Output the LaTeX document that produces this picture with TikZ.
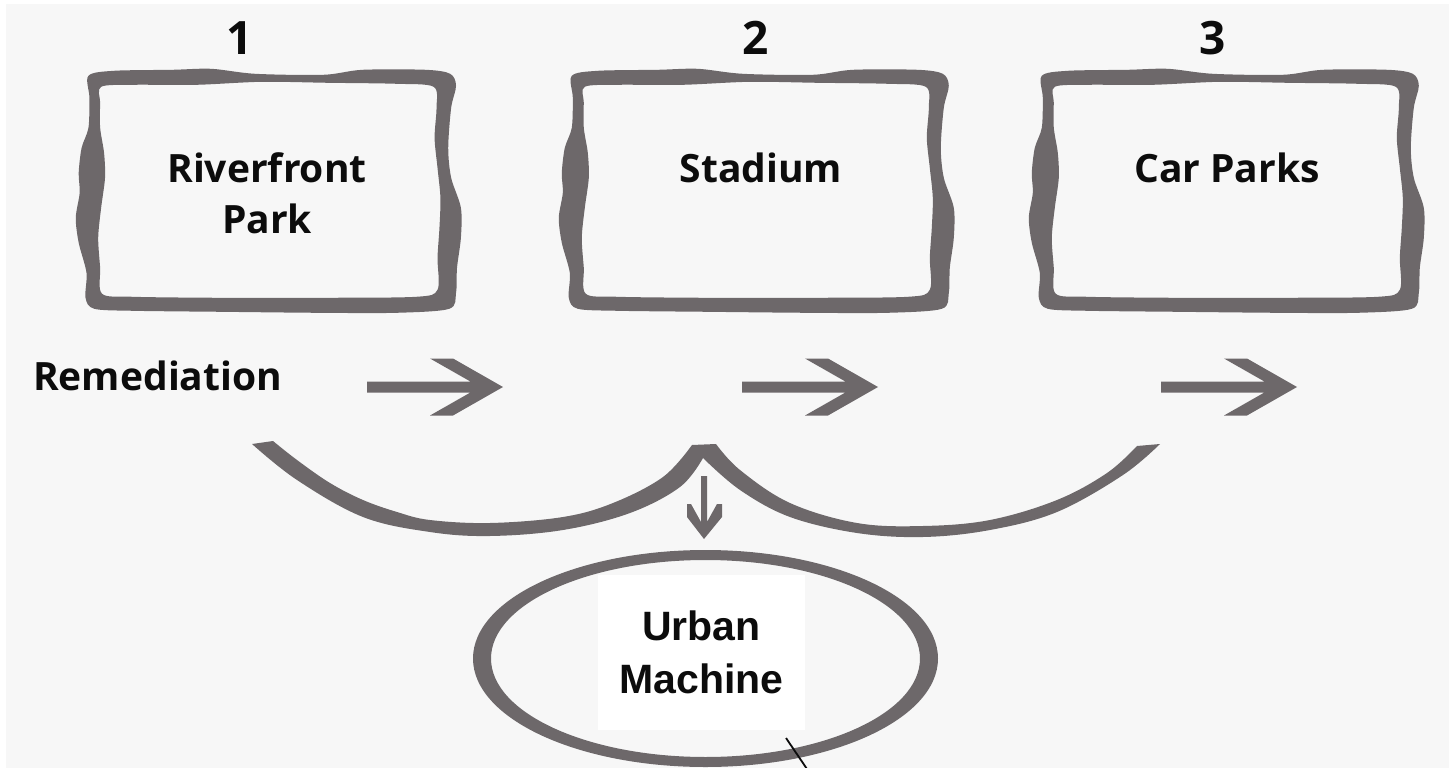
\documentclass[tikz,border=0pt]{standalone}
\usepackage{fontspec}
\setmainfont{Open Sans}
\newfontfamily\arialfont{Liberation Sans}
\usetikzlibrary{shapes.geometric}
\definecolor{shapegray}{RGB}{109,104,106}
\definecolor{bggray}{RGB}{247,247,247}
\definecolor{inkblack}{RGB}{12,12,12}
\tikzset{
  boxholder/.style={rectangle, draw=none, inner sep=0pt, minimum height=245pt},
  boxtext/.style={inner sep=0pt, text=inkblack, align=center, font=\bfseries\fontsize{39}{51}\selectfont},
  numtext/.style={inner sep=0pt, text=inkblack, font=\bfseries\fontsize{46}{50}\selectfont},
  remtext/.style={inner sep=0pt, text=inkblack, font=\bfseries\fontsize{39}{48}\selectfont},
  umtext/.style={fill=white, inner sep=0pt, minimum width=207pt, minimum height=155pt, align=center, text=inkblack, font=\arialfont\bfseries\fontsize{41}{53}\selectfont},
  wobframe/.pic={
    \fill[shapegray, even odd rule]
      plot[smooth cycle, tension=0.5] coordinates {(14,8) (40,3) (100,2) (140,1) (185,6) (255,7) (295,2) (360,2) (385,6) (391,18) (386,40) (383,80) (386,110) (396,140) (396,170) (392,200) (391,225) (384,241) (330,245) (250,245) (150,244) (60,243) (20,241) (11,230) (12,205) (4,175) (1,150) (5,125) (4,105) (7,80) (14,60) (15,30)}
      plot[smooth cycle, tension=0.5] coordinates {(27,19) (60,17) (125,17) (192,14) (260,15) (330,16) (368,19) (371,40) (369,70) (372,100) (375,130) (374,160) (372,190) (372,222) (350,229) (250,230) (150,230) (60,229) (28,226) (26,200) (24,170) (27,140) (31,110) (30,85) (26,60) (26,35)};
  },
  rarrow/.pic={
    \fill[shapegray] (0,-5.5) -- (103.4,-5.5) -- (63,-28.5) -- (86,-28.5) -- (136,0) -- (86,28.5) -- (63,28.5) -- (103.4,5.5) -- (0,5.5) -- cycle;
  }
}
\begin{document}
\begin{tikzpicture}[x=1pt,y=-1pt]
\useasboundingbox (0,0) rectangle (1449,768);
\fill[white] (0,0) rectangle (1449,768);
\fill[bggray] (6,4) rectangle (1449,768);

% boxes
\node[boxholder, minimum width=388pt] (b1) at (269,190.5) {};
\node[boxholder, minimum width=398pt] (b2) at (757,190.5) {};
\node[boxholder, minimum width=398pt] (b3) at (1227,190.5) {};
\path (b1.north west) pic[xscale=0.975] {wobframe};
\path (b2.north west) pic {wobframe};
\path (b3.north west) pic {wobframe};

\node[boxtext] (t1) at (267,192.8) {Riverfront\\Park};
\node[boxtext, anchor=base] (t2) at (761,182) {Stadium};
\node[boxtext, anchor=base] (t3) at (1227,182) {Car Parks};

\node[numtext, anchor=base] (n1) at (240,55) {1};
\node[numtext, anchor=base] (n2) at (756,55) {2};
\node[numtext, anchor=base] (n3) at (1213,55) {3};

% remediation row
\node[remtext, anchor=base west] (rem) at (33,390) {Remediation};
\coordinate (a1) at (367,387);
\coordinate (a2) at (742,387);
\coordinate (a3) at (1161,387);
\path (a1) pic {rarrow};
\path (a2) pic {rarrow};
\path (a3) pic {rarrow};

% double arc
\fill[shapegray]
  plot[smooth, tension=0.6] coordinates {(273,441) (297,460) (330,483) (363,500) (397,512) (430,520) (490,523) (563,517) (613,503) (663,477) (692,445)}
  -- (716,444)
  -- plot[smooth, tension=0.6] coordinates {(716,444) (740,470) (790,503) (857,523) (923,526) (990,520) (1057,500) (1107,473) (1137,446)}
  -- (1160,444)
  -- plot[smooth, tension=0.6] coordinates {(1160,444) (1123,475) (1057,512) (990,530) (923,537) (857,533) (790,517) (740,490) (703,458)}
  -- plot[smooth, tension=0.6] coordinates {(703,458) (680,487) (630,513) (563,530) (490,536) (430,532) (363,517) (297,480) (252,444)}
  -- cycle;

% down arrow
\coordinate (dtop) at (704,476);
\fill[shapegray] (701,476) -- (701,522) -- (691,504) -- (687,504) -- (687,517) -- (704,539) -- (722,517) -- (722,504) -- (717,504) -- (707,522) -- (707,476) -- cycle;

% ellipse ring
\fill[shapegray, even odd rule] (705.5,658.5) ellipse [x radius=232.5, y radius=108.5]
  (705.5,658.5) ellipse [x radius=214.5, y radius=98.5];
\node[umtext] (um) at (701.5,652.5) {Urban\\Machine};

% thin black line
\coordinate (lnA) at (786,738);
\coordinate (lnB) at (807,769);
\draw[inkblack, line width=1.8pt] (lnA) -- (lnB);
\end{tikzpicture}
\end{document}
